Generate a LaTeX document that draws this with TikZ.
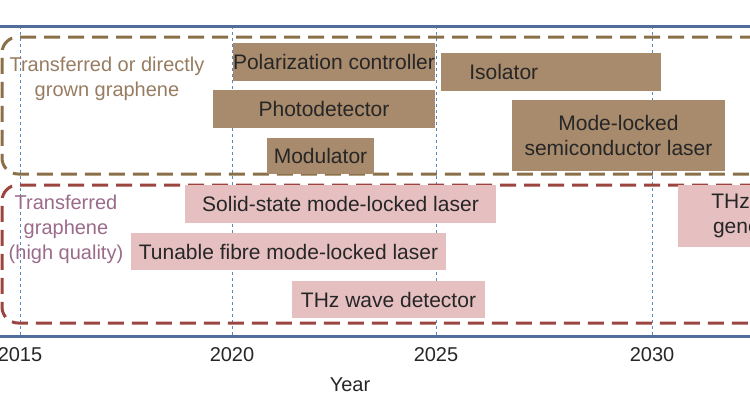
\documentclass[tikz,border=0pt]{standalone}
\usepackage{fontspec}
\setmainfont{Liberation Sans}
\usetikzlibrary{positioning}
\definecolor{axisblue}{HTML}{4F6F9A}
\definecolor{gridblue}{HTML}{5B86C4}
\definecolor{brownbox}{HTML}{A88A6C}
\definecolor{brownline}{HTML}{8A7048}
\definecolor{pinkbox}{HTML}{E6C0C0}
\definecolor{redline}{HTML}{9A4540}
\definecolor{mauve}{HTML}{9A6A8A}
\tikzset{
  devbrown/.style={fill=brownbox,text=black!85,font=\fontsize{21}{25}\selectfont,align=center,inner sep=0pt},
  devpink/.style={fill=pinkbox,text=black!85,font=\fontsize{21}{25}\selectfont,align=center,inner sep=0pt},
  yearlabel/.style={font=\fontsize{20}{24}\selectfont,text=black!85},
}
\begin{document}
\begin{tikzpicture}[x=1pt,y=-1pt]
    \useasboundingbox (0,0) rectangle (750,400);
    \clip (0,0) rectangle (750,400);
    %% year grid
    \foreach \x in {20,232,436,652}
      \draw [gridblue,dashed,thin] (\x,26) -- (\x,336);
    %% group frames
    \draw [brownline,line width=3pt,dash pattern=on 16pt off 8pt,rounded corners=16pt] (780,37) -- (2,37) -- (2,174) -- (780,174);
    \draw [redline,line width=3pt,dash pattern=on 16pt off 8pt,rounded corners=16pt] (780,185) -- (2,185) -- (2,323) -- (780,323);
    %% axis lines
    \draw [axisblue,line width=3pt] (0,26) -- (750,26);
    \draw [axisblue,line width=3pt] (0,336) -- (750,336);
    %% brown devices
    \node [devbrown,minimum width=202,minimum height=38] (polar) at (334,62) {Polarization controller};
    \node [devbrown,minimum width=220,minimum height=38] (iso) at (551,72) {\hspace*{-4.5em}Isolator};
    \node [devbrown,minimum width=222,minimum height=38] (photo) at (324,109) {Photodetector};
    \node [devbrown,minimum width=213,minimum height=71] (mlsemi) at (618.5,135.5) {Mode-locked\\semiconductor laser};
    \node [devbrown,minimum width=107,minimum height=36] (mod) at (320.5,156) {Modulator};
    %% pink devices
    \node [devpink,minimum width=311,minimum height=38] (solid) at (340.5,204) {Solid-state mode-locked laser};
    \node [devpink,minimum width=315,minimum height=37] (fibre) at (288.5,251.5) {Tunable fibre mode-locked laser};
    \node [devpink,minimum width=193,minimum height=37] (thzdet) at (388.5,299.5) {THz wave detector};
    \node [devpink,minimum width=160,minimum height=62] (thzgen) at (758,216) {THz wave\\generator};
    %% group labels
    \node [text=brownbox!90!black,font=\fontsize{20}{25}\selectfont,align=center] (grownlabel) at (107,79) {Transferred or directly\\grown graphene};
    \node [text=mauve,font=\fontsize{20}{25}\selectfont,align=center] (hqlabel) at (66,229) {Transferred\\graphene\\(high quality)};
    %% years
    \foreach \x/\y in {20/2015,232/2020,436/2025,652/2030}
      \node [yearlabel] (y\y) at (\x,355) {\y};
    \node [yearlabel] (yeartitle) at (350,385) {Year};
  \end{tikzpicture}
\end{document}
